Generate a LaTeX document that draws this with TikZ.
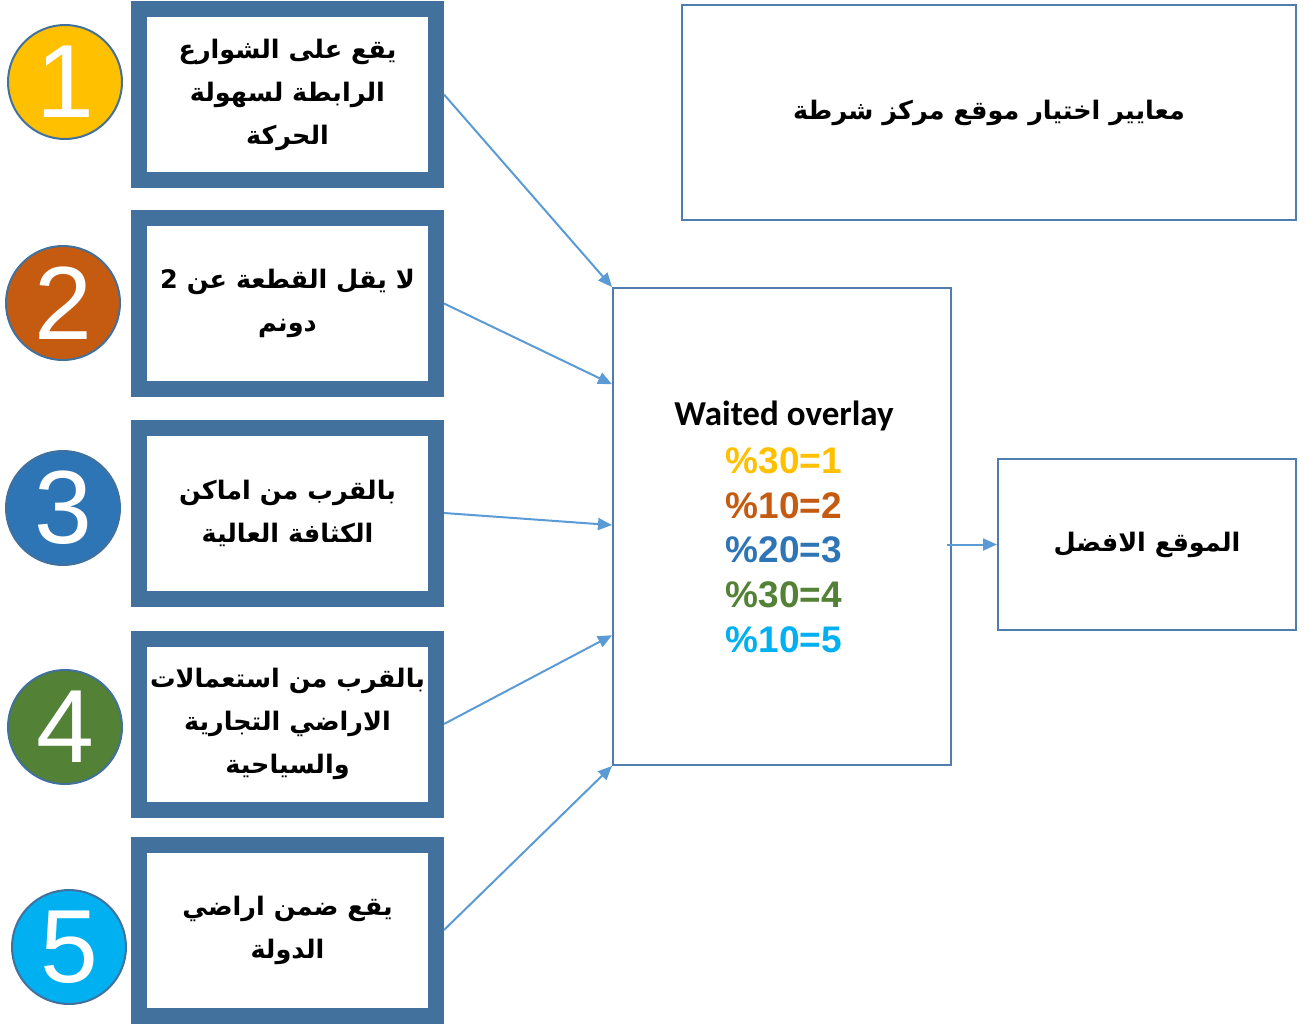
\documentclass[tikz,border=0pt]{standalone}
\usepackage{fontspec}
\usetikzlibrary{arrows.meta,calc}
\TeXXeTstate=1
\newfontfamily\arabicfont[Script=Arabic]{DejaVu Sans}
\newfontfamily\numfont{Liberation Sans}
\newfontfamily\calfont{Carlito}
\definecolor{boxblue}{HTML}{41719C}
\definecolor{thinblue}{HTML}{4F7EAE}
\definecolor{arrowblue}{HTML}{5B9BD5}
\definecolor{cone}{HTML}{FFC000}
\definecolor{ctwo}{HTML}{C55A11}
\definecolor{cthree}{HTML}{2E75B6}
\definecolor{cfour}{HTML}{538135}
\definecolor{cfive}{HTML}{00B0F0}
\newcommand{\ar}[1]{\beginR #1\endR}
\tikzset{
  critbox/.style={draw=boxblue, line width=16pt, fill=white, minimum width=297pt, minimum height=171pt, align=center, font=\arabicfont\bfseries\fontsize{25.5}{43}\selectfont, inner sep=0pt},
  thinbox/.style={draw=thinblue, line width=2pt, fill=white, align=center, inner sep=0pt},
  numcirc/.style={circle, draw=boxblue, line width=2pt, minimum size=114pt, inner sep=0pt, text=white, font=\numfont\fontsize{104}{104}\selectfont},
  pct/.style={font=\numfont\bfseries\fontsize{37}{40}\selectfont},
  conn/.style={draw=arrowblue, line width=2pt, -{Triangle[length=14pt,width=12pt]}}
}
\begin{document}
\begin{tikzpicture}[x=1pt,y=-1pt]
\useasboundingbox (0,0) rectangle (1309,1023);
% criteria boxes
\node[critbox] (b1) at (287.5,94.5) {\ar{يقع على الشوارع}\\\ar{الرابطة لسهولة}\\\ar{الحركة}};
\node[critbox] (b2) at (287.5,303.5) {\ar{لا يقل القطعة عن 2}\\\ar{دونم}};
\node[critbox] (b3) at (287.5,513) {\ar{بالقرب من اماكن}\\\ar{الكثافة العالية}};
\node[critbox] (b4) at (287.5,724) {\ar{بالقرب من استعمالات}\\\ar{الاراضي التجارية}\\\ar{والسياحية}};
\node[critbox] (b5) at (287.5,930) {\ar{يقع ضمن اراضي}\\\ar{الدولة}};
% number circles
\node[numcirc, fill=cone] (n1) at (65,82) {1};
\node[numcirc, fill=ctwo] (n2) at (63,303) {2};
\node[numcirc, fill=cthree] (n3) at (63,508) {3};
\node[numcirc, fill=cfour] (n4) at (65,727) {4};
\node[numcirc, fill=cfive] (n5) at (69,947) {5};
% title box
\node[thinbox, minimum width=614pt, minimum height=215pt, font=\arabicfont\bfseries\fontsize{25.5}{30}\selectfont] (t) at (989,112.5) {\ar{معايير اختيار موقع مركز شرطة}};
% centre box
\node[thinbox, minimum width=338pt, minimum height=477pt] (c) at (782,526.5) {};
\node[font=\calfont\bfseries\fontsize{35}{40}\selectfont] (wo) at (784,416) {Waited overlay};
\node[pct, text=cone] (p1) at (784,461) {\%30=1};
\node[pct, text=ctwo] (p2) at (784,505.5) {\%10=2};
\node[pct, text=cthree] (p3) at (784,550) {\%20=3};
\node[pct, text=cfour] (p4) at (784,595) {\%30=4};
\node[pct, text=cfive] (p5) at (784,639.5) {\%10=5};
% result box
\node[thinbox, minimum width=298pt, minimum height=171pt, font=\arabicfont\bfseries\fontsize{25.5}{30}\selectfont] (r) at (1147,544.5) {\ar{الموقع الافضل}};
% connectors
\draw[conn] (b1.east) -- (c.north west);
\draw[conn] (b2.east) -- ($(c.north west)!0.203!(c.south west)$);
\draw[conn] (b3.east) -- ($(c.north west)!0.497!(c.south west)$);
\draw[conn] (b4.east) -- ($(c.north west)!0.727!(c.south west)$);
\draw[conn] (b5.east) -- (c.south west);
\draw[conn] ([xshift=-5pt]c.east |- r.west) -- (r.west);
\end{tikzpicture}
\end{document}
